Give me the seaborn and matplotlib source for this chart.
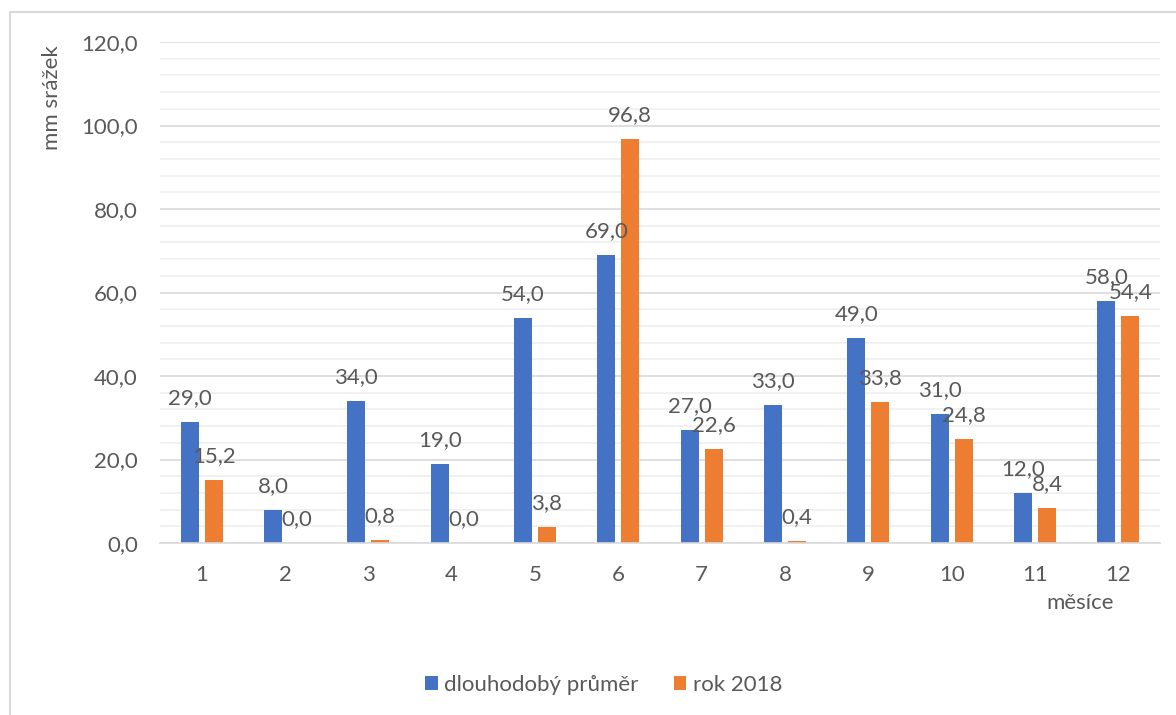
import matplotlib
matplotlib.use("Agg")
import matplotlib.pyplot as plt
from matplotlib.ticker import MultipleLocator, FuncFormatter
from matplotlib.patches import Rectangle
import seaborn as sns
import pandas as pd

months = [1, 2, 3, 4, 5, 6, 7, 8, 9, 10, 11, 12]
prumer = [29.0, 8.0, 34.0, 19.0, 54.0, 69.0, 27.0, 33.0, 49.0, 31.0, 12.0, 58.0]
rok2018 = [15.2, 0.0, 0.8, 0.0, 3.8, 96.8, 22.6, 0.4, 33.8, 24.8, 8.4, 54.4]
series = ["dlouhodobý průměr", "rok 2018"]
colors = ["#4472C4", "#ED7D31"]

df = pd.DataFrame({
    "mesic": [str(m) for m in months] * 2,
    "mm": prumer + rok2018,
    "rada": [series[0]] * 12 + [series[1]] * 12,
})

sns.set_theme(style="white")
plt.rcParams["font.family"] = ["Lato", "DejaVu Sans"]
txt = "#595959"
fs = 16

fig = plt.figure(figsize=(11.76, 7.15), dpi=100)
ax = fig.add_axes([160 / 1176, 1 - 543 / 715, 1000 / 1176, 501 / 715])

sns.barplot(data=df, x="mesic", y="mm", hue="rada", palette=colors, saturation=1,
            width=0.576, gap=0.25, linewidth=0, ax=ax, legend=True, errorbar=None)

fmt = lambda v: f"{v:.1f}".replace(".", ",")
for cont in ax.containers:
    ax.bar_label(cont, labels=[fmt(b.get_height()) for b in cont],
                 padding=10, fontsize=fs, color=txt)

ax.set_ylim(0, 120)
ax.set_xlim(-0.5, 11.5)
ax.yaxis.set_major_locator(MultipleLocator(20))
ax.yaxis.set_minor_locator(MultipleLocator(4))
ax.yaxis.set_major_formatter(FuncFormatter(lambda v, p: fmt(v)))
ax.grid(axis="y", which="minor", color="#EFEFEF", lw=1.2)
ax.grid(axis="y", which="major", color="#D9D9D9", lw=1.2)
ax.set_axisbelow(True)
for s in ["top", "left", "right"]:
    ax.spines[s].set_visible(False)
ax.spines["bottom"].set_color("#D9D9D9")
ax.spines["bottom"].set_linewidth(1.2)
ax.tick_params(axis="both", which="both", length=0, labelsize=fs, labelcolor=txt)
ax.tick_params(axis="x", pad=16)
ax.tick_params(axis="y", pad=16)

ax.set_ylabel("mm srážek", fontsize=fs, color=txt)
ax.yaxis.set_label_coords(-0.098, 0.888)
ax.set_xlabel("měsíce", fontsize=fs, color=txt)
ax.xaxis.set_label_coords(0.92, -0.10)

handles, labels = ax.get_legend_handles_labels()
ax.legend_.remove()
fig.legend(handles, labels, loc="center", bbox_to_anchor=(604 / 1176, 1 - 685 / 715),
           ncol=2, frameon=False, fontsize=fs, labelcolor=txt,
           handlelength=0.55, handleheight=0.55, handletextpad=0.3, columnspacing=1.6)

fig.patches.append(Rectangle((10 / 1176, -0.1), 1.2, 1.1 - 12 / 715, transform=fig.transFigure,
                             fill=False, edgecolor="#D9D9D9", lw=1.5))

fig.savefig("out.png", dpi=100)
